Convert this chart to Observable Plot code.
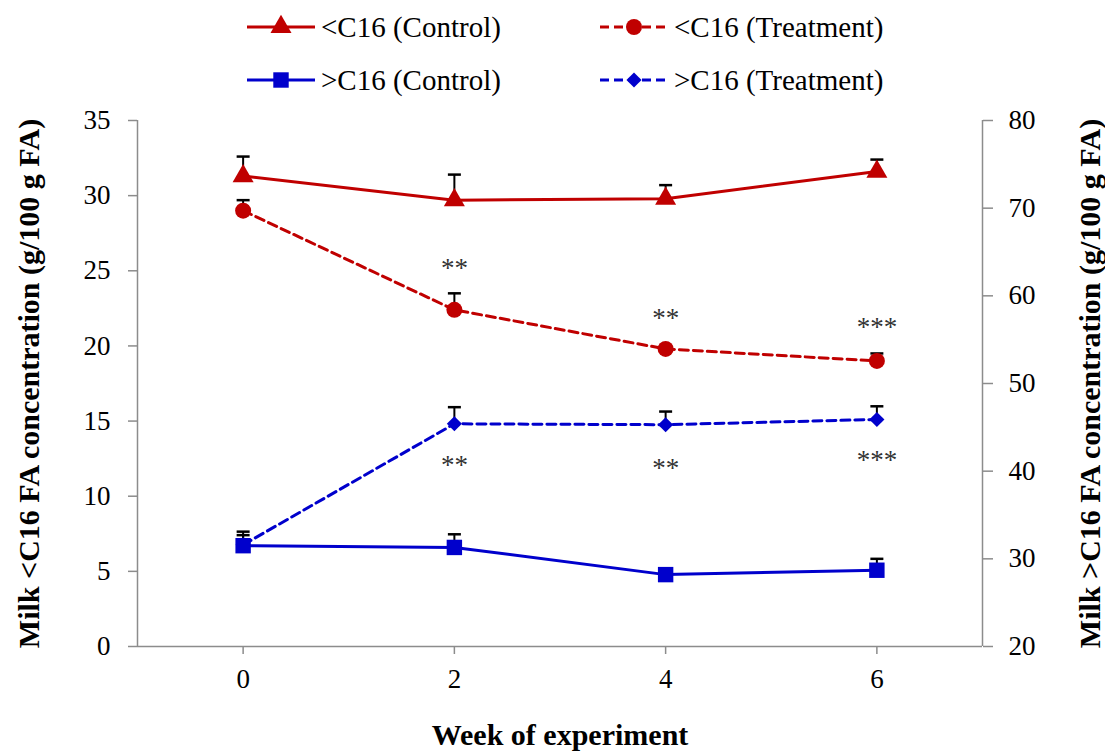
<!DOCTYPE html>
<html>
<head>
<meta charset="utf-8">
<script src="https://cdn.jsdelivr.net/npm/d3@7"></script>
<script src="https://cdn.jsdelivr.net/npm/@observablehq/plot@0.6"></script>
<style>
  body { margin: 0; background: #fff; font-family: "Liberation Serif", "Times New Roman", serif; }
  #chart { width: 1105px; }
  #chart svg { display: block; }
</style>
</head>
<body>
<div id="chart"></div>
<script>
// Weeks of the experiment
const weeks = [0, 2, 4, 6];

// Milk <C16 FA (g/100 g FA), left axis: means and top of error bar
const shortControl     = [31.3, 29.7, 29.8, 31.6];
const shortControlTop  = [32.6, 31.4, 30.7, 32.4];
const shortTreat       = [29.0, 22.4, 19.8, 19.0];
const shortTreatTop    = [29.7, 23.5, 20.0, 19.5];

// Milk >C16 FA (g/100 g FA), right axis: means and top of error bar
const longControl      = [31.5, 31.3, 28.2, 28.7];
const longControlTop   = [32.7, 32.8, 28.5, 30.0];
const longTreat        = [31.6, 45.4, 45.3, 45.9];
const longTreatTop     = [33.1, 47.3, 46.8, 47.4];

// Axis ticks
const leftTicks  = [0, 5, 10, 15, 20, 25, 30, 35];
const rightTicks = [20, 30, 40, 50, 60, 70, 80];

// Significance markers (week, position on left scale, label)
const starWeeks  = [2, 4, 6, 2, 4, 6];
const starY      = [25.3, 22.0, 21.4, 12.2, 12.0, 12.5];
const starLabels = ["**", "**", "***", "**", "**", "***"];

// Right axis (20–80) is drawn onto the left scale (0–35)
const toLeft = v => (v - 20) * 35 / 60;
const fromLeft = v => v * 60 / 35 + 20;

const RED = "#c00000", BLUE = "#0000cc";
const series = [
  {name: "<C16 (Control)",   mean: shortControl, top: shortControlTop, axis: "left",  color: RED,  dash: null,  symbol: "triangle", r: 7.8},
  {name: "<C16 (Treatment)", mean: shortTreat,   top: shortTreatTop,   axis: "left",  color: RED,  dash: "9,5", symbol: "circle",   r: 8},
  {name: ">C16 (Control)",   mean: longControl,  top: longControlTop,  axis: "right", color: BLUE, dash: null,  symbol: "square",   r: 8.7},
  {name: ">C16 (Treatment)", mean: longTreat,    top: longTreatTop,    axis: "right", color: BLUE, dash: "9,5", symbol: "diamond2", r: 6.8}
];

const rows = series.flatMap(s => weeks.map((w, i) => ({
  series: s.name,
  week: w,
  value: s.axis === "right" ? toLeft(s.mean[i]) : s.mean[i],
  top: s.axis === "right" ? toLeft(s.top[i]) : s.top[i]
})));
const stars = starWeeks.map((w, i) => ({week: w, y: starY[i], label: starLabels[i]}));

// horizontal cap for the error bars
const capSymbol = {
  draw(context, size) {
    const w = Math.sqrt(size / Math.PI);
    context.moveTo(-w, 0);
    context.lineTo(w, 0);
  }
};

const FONT = '"Liberation Serif", "Times New Roman", serif';
const AXIS = "#8c8c8c";

// ---- legend ----
const legend = d3.select("#chart").append("svg")
  .attr("width", 1105).attr("height", 100);
const legendPos = [
  {x: 247, y: 27}, {x: 600, y: 27}, {x: 247, y: 80}, {x: 600, y: 80}
];
const symbolTypes = {triangle: d3.symbolTriangle, circle: d3.symbolCircle, square: d3.symbolSquare, diamond2: d3.symbolDiamond2};
series.forEach((s, i) => {
  const p = legendPos[i];
  const g = legend.append("g").attr("transform", `translate(${p.x},${p.y})`);
  g.append("line").attr("x1", 0).attr("x2", 68).attr("y1", 0).attr("y2", 0)
    .attr("stroke", s.color).attr("stroke-width", 3)
    .attr("stroke-dasharray", s.dash);
  g.append("path").attr("transform", "translate(34,0)")
    .attr("d", d3.symbol(symbolTypes[s.symbol], s.r * s.r * Math.PI)())
    .attr("fill", s.color);
  g.append("text").attr("x", 74).attr("y", 0).attr("dy", "0.33em")
    .attr("font-family", FONT).attr("font-size", 29).attr("fill", "black")
    .text(s.name);
});

// ---- chart ----
const marks = [
  Plot.ruleX([-1], {stroke: AXIS, strokeWidth: 1.5}),
  Plot.ruleX([7], {stroke: AXIS, strokeWidth: 1.5}),
  Plot.ruleY([0], {stroke: AXIS, strokeWidth: 1.5}),
  Plot.axisY(leftTicks, {anchor: "left", tickSize: 9, tickPadding: 18, stroke: AXIS, fill: "black", strokeWidth: 1.5, label: null}),
  Plot.axisY(rightTicks.map(toLeft), {anchor: "right", tickSize: 10, tickPadding: 16, stroke: AXIS, fill: "black", strokeWidth: 1.5,
    tickFormat: d => String(Math.round(fromLeft(d))), label: null}),
  Plot.axisX(weeks, {anchor: "bottom", tickSize: 8, tickPadding: 14, stroke: AXIS, fill: "black", strokeWidth: 1.5, label: null}),
  Plot.text(["Milk <C16 FA concentration (g/100 g FA)"], {text: d => d, frameAnchor: "left", textAnchor: "middle", dx: -108, rotate: -90, fontWeight: "bold", fontSize: 30}),
  Plot.text(["Milk >C16 FA concentration (g/100 g FA)"], {text: d => d, frameAnchor: "right", textAnchor: "middle", dx: 108, rotate: -90, fontWeight: "bold", fontSize: 30}),
  Plot.text(["Week of experiment"], {text: d => d, frameAnchor: "bottom", textAnchor: "middle", dy: 98, fontWeight: "bold", fontSize: 30})
];

// connecting lines
for (const s of series) {
  marks.push(Plot.line(rows.filter(d => d.series === s.name), {
    x: "week", y: "value", stroke: s.color, strokeWidth: 3, strokeDasharray: s.dash
  }));
}
// error bars
marks.push(Plot.ruleX(rows, {x: "week", y1: "value", y2: "top", stroke: "black", strokeWidth: 2}));
marks.push(Plot.dot(rows, {x: "week", y: "top", symbol: capSymbol, r: 6.5, fill: "none", stroke: "black", strokeWidth: 2.5}));
// markers
for (const s of [series[3], series[2], series[1], series[0]]) {
  marks.push(Plot.dot(rows.filter(d => d.series === s.name), {
    x: "week", y: "value", symbol: s.symbol, r: s.r, fill: s.color, stroke: "none"
  }));
}
// significance stars
marks.push(Plot.text(stars, {x: "week", y: "y", text: "label", fontSize: 27, fill: "#333", dy: 2}));

const chart = Plot.plot({
  width: 1105,
  height: 656,
  marginTop: 20,
  marginBottom: 110,
  marginLeft: 137,
  marginRight: 123,
  x: {domain: [-1, 7]},
  y: {domain: [0, 35]},
  style: {fontFamily: FONT, fontSize: "27px", color: "black", background: "white", overflow: "visible"},
  marks
});
document.getElementById("chart").appendChild(chart);
</script>
</body>
</html>
